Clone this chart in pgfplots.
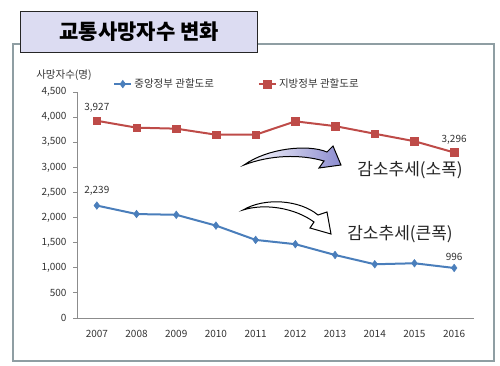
\documentclass[border=0pt]{standalone}
\usepackage{fontspec}
\setmainfont{Noto Sans CJK KR}
\usepackage{pgfplots}
\pgfplotsset{compat=1.18}
\definecolor{cblue}{HTML}{4A7EBB}
\definecolor{cred}{HTML}{BE4B48}
\definecolor{framec}{HTML}{8F9EA3}
\definecolor{titlefill}{HTML}{DCDCF2}
\definecolor{txt}{HTML}{333333}
\definecolor{arrowfill}{HTML}{8C8CD0}
\begin{document}
\begin{tikzpicture}
\path (0,0) rectangle (500pt,365pt);
\begin{scope}[x=1pt,y=-1pt,yshift=365pt]
\draw[framec, line width=2pt] (13,361) -- (13,44) -- (494,44) -- (494,361) -- cycle;
\node[draw=black!85, line width=1.2pt, fill=titlefill, minimum width=237pt, minimum height=41pt, anchor=north west, inner sep=0pt] at (20,11) {\fontsize{21}{24}\selectfont\bfseries 교통사망자수 변화};
\node[text=txt, font=\fontsize{10.5}{12}\selectfont] at (64,75) {사망자수(명)};
\end{scope}
\begin{axis}[
  at={(77pt,47pt)}, anchor=south west,
  width=397pt, height=226pt, scale only axis,
  xmin=2006.5, xmax=2016.5, ymin=0, ymax=4500,
  axis lines=left, axis line style={draw=black!45, line width=0.8pt, -},
  xtick={2007,...,2016},
  xticklabels={2007,2008,2009,2010,2011,2012,2013,2014,2015,2016},
  x tick style={draw=none},
  extra x ticks={2006.5,2007.5,...,2016.5},
  extra x tick labels={},
  extra x tick style={tick style={draw=black!45, line width=0.8pt}, major tick length=4pt, tick align=inside},
  ytick={0,500,...,4500},
  y tick style={draw=black!45, line width=0.8pt},
  major tick length=4pt, tick align=outside,
  /pgf/number format/assume math mode=true,
  /pgf/number format/1000 sep={,},
  tick label style={font=\fontsize{10}{12}\selectfont, text=txt},
  xticklabel style={yshift=-5pt},
  yticklabel style={xshift=-3pt},
  legend style={at={(0.403,1.035)}, anchor=center, draw=none, fill=none, font=\fontsize{10.5}{12}\selectfont, text=txt},
  legend columns=2,
  legend cell align=left,
  /tikz/every even column/.append style={column sep=42pt},
  clip=false,
]
\addplot[color=cblue, line width=2pt, mark=diamond*, mark size=3.8pt, mark options={fill=cblue, line width=0.5pt}]
coordinates {(2007,2239) (2008,2070) (2009,2055) (2010,1840) (2011,1555) (2012,1470) (2013,1255) (2014,1070) (2015,1090) (2016,996)};
\addlegendentry{중앙정부 관할도로}
\addplot[color=cred, line width=2pt, mark=square*, mark size=3.8pt, mark options={fill=cred, line width=0.5pt}]
coordinates {(2007,3927) (2008,3790) (2009,3770) (2010,3650) (2011,3650) (2012,3916) (2013,3821) (2014,3669) (2015,3520) (2016,3296)};
\addlegendentry{지방정부 관할도로}
\node[anchor=south, text=txt, font=\fontsize{10}{12}\selectfont] at ([yshift=5pt]axis cs:2007,3927) {3,927};
\node[anchor=south, text=txt, font=\fontsize{10}{12}\selectfont] at ([yshift=7pt]axis cs:2007,2239) {2,239};
\node[anchor=south, text=txt, font=\fontsize{10}{12}\selectfont] at ([yshift=5pt]axis cs:2016,3296) {3,296};
\node[anchor=south, text=txt, font=\fontsize{10}{12}\selectfont] at ([yshift=4pt]axis cs:2016,996) {996};
\end{axis}
\begin{scope}[x=1pt,y=-1pt,yshift=365pt]
\path[left color=white, right color=arrowfill, draw=black, line width=1pt]
 (244,165) .. controls (268,148) and (308,144) .. (327,152)
 -- (333,146) -- (341,165) -- (319,168) -- (324,161)
 .. controls (300,154) and (270,155) .. (244,165) -- cycle;
\path[fill=white, draw=black, line width=1pt]
 (243,210) .. controls (265,197) and (300,200) .. (318,215)
 -- (327,212) -- (331,234) -- (310,228) -- (314,222)
 .. controls (295,208) and (265,203) .. (243,210) -- cycle;
\node[text=black!85, font=\fontsize{17}{20}\selectfont] at (410,170) {감소추세(소폭)};
\node[text=black!85, font=\fontsize{17}{20}\selectfont] at (400,234) {감소추세(큰폭)};
\end{scope}
\end{tikzpicture}
\end{document}
